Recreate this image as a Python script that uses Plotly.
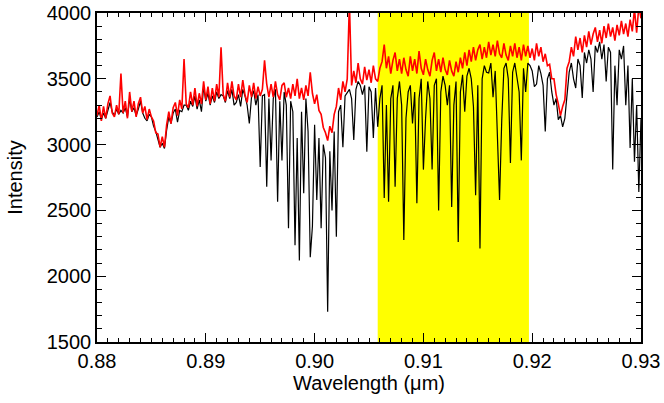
import plotly.graph_objects as go

# Spectrum sampled every 0.0002 um starting at 0.880 um
wl_start = 0.880
wl_step = 0.0002

# Telluric-corrected spectrum (red)
corrected = [
    3220, 3300, 3180, 3290, 3200, 3310, 3370, 3240, 3210, 3300,
    3230, 3540, 3240, 3330, 3200, 3400, 3250, 3330, 3210, 3310,
    3360, 3240, 3290, 3190, 3270, 3210, 3180, 3090, 3080, 2980,
    3060, 2980, 3150, 3250, 3160, 3280, 3320, 3220, 3340, 3270,
    3650, 3310, 3280, 3400, 3300, 3430, 3290, 3390, 3310, 3480,
    3340, 3440, 3310, 3430, 3330, 3460, 3360, 3740, 3380, 3330,
    3470, 3360, 3480, 3370, 3340, 3460, 3360, 3490, 3380, 3320,
    3450, 3360, 3470, 3350, 3440, 3370, 3420, 3640, 3460, 3360,
    3460, 3360, 3480, 3380, 3340, 3450, 3470, 3360, 3430, 3350,
    3460, 3370, 3500, 3350, 3430, 3340, 3450, 3370, 3550, 3390,
    3310, 3380, 3260, 3230, 3130, 3090, 3030, 3140, 3090, 3230,
    3290, 3430, 3340, 3480, 3400, 3500, 4080, 3450, 3560, 3470,
    3620, 3500, 3460, 3590, 3490, 3570, 3470, 3600, 3500, 3480,
    3580, 3630, 3760, 3580, 3670, 3540, 3640, 3700, 3560, 3650,
    3540, 3660, 3570, 3520, 3670, 3560, 3650, 3540, 3710, 3580,
    3530, 3650, 3570, 3520, 3640, 3700, 3560, 3650, 3550, 3660,
    3570, 3530, 3640, 3560, 3520, 3630, 3550, 3660, 3580, 3700,
    3600, 3720, 3630, 3740, 3640, 3720, 3760, 3650, 3740, 3660,
    3780, 3680, 3760, 3670, 3790, 3690, 3660, 3770, 3680, 3640,
    3750, 3670, 3770, 3660, 3740, 3640, 3760, 3670, 3750, 3660,
    3730, 3640, 3770, 3670, 3740, 3630, 3690, 3600, 3610, 3500,
    3500, 3380, 3310, 3220, 3290, 3340, 3580, 3630, 3740, 3670,
    3820, 3720, 3810, 3700, 3830, 3740, 3860, 3760, 3840, 3890,
    3780, 3870, 3770, 3900, 3810, 3920, 3820, 3890, 3790, 3910,
    3830, 3940, 3840, 3920, 3820, 3950, 3860, 4030, 3850, 4050,
    3960,
]

# Observed spectrum with telluric absorption (black)
observed = [
    3210, 3250, 3190, 3240, 3200, 3260, 3320, 3250, 3220, 3270,
    3230, 3260, 3240, 3280, 3210, 3350, 3250, 3280, 3220, 3270,
    3330, 3240, 3200, 3180, 3230, 3210, 3140, 3100, 3040, 2980,
    3010, 2970, 3110, 3210, 3160, 3240, 3270, 3170, 3260, 3250,
    3300, 3300, 3260, 3330, 3290, 3370, 3270, 3340, 3250, 3440,
    3330, 3390, 3300, 3370, 3320, 3400, 3350, 3380, 3370, 3320,
    3410, 3350, 3420, 3300, 3320, 3380, 3290, 3420, 3370, 3300,
    3160, 3360, 3410, 3300, 3380, 2830, 3370, 3380, 2680, 3350,
    2880, 3350, 3420, 2565, 3330, 2880, 3400, 3300, 2365, 3330,
    3250, 2235, 3050, 2120, 3250, 2630, 3350, 3100, 2145, 2380,
    3150, 2580, 3050, 2365, 3000, 2900, 1730, 2950, 2500, 3100,
    2300, 3250, 3300, 2980, 3370, 3400, 3420, 3350, 3035, 3420,
    3480, 3450, 3380, 3450, 2945, 3440, 3400, 3050, 3430, 3135,
    3350, 3450, 2595, 3300, 2565, 3350, 3450, 2680, 3350, 3480,
    3300, 2275, 3200, 3400, 3450, 3160, 3400, 2555, 3350, 3500,
    2810, 3200, 3480, 3350, 2810, 3450, 3500, 2500, 3400, 3520,
    3450, 3300, 3450, 2525, 3300, 3480, 2260, 3400, 3530, 3250,
    3520, 3580, 3500, 3290, 2615, 3450, 2210, 3500, 3600, 3550,
    3545, 3620, 3360, 3560, 3060, 2580, 3185, 3580, 3620, 3500,
    2860, 3550, 3620, 3500, 3400, 2880, 3580, 3400, 3620, 3600,
    3560, 3440, 3460, 3600, 3540, 3450, 3100, 3500, 3550, 3400,
    3300, 3350, 3190, 3220, 3135, 3200, 3380, 3550, 3620, 3500,
    3430, 3650, 3600, 3355, 3700, 3620, 3720, 3650, 3400, 3750,
    3700, 3780, 3650, 3760, 3480, 3740, 3700, 2810, 3600, 3300,
    3720, 3650, 3750, 3300, 3600, 2975, 3500, 2870, 3300, 2640,
    3200,
]

assert len(corrected) == 251, len(corrected)
assert len(observed) == 251, len(observed)

highlight_band = [0.9058, 0.9197]
x_range = [0.88, 0.93]
y_range = [1500, 4000]
x_ticks = [0.88, 0.89, 0.90, 0.91, 0.92, 0.93]
x_tick_text = ["0.88", "0.89", "0.90", "0.91", "0.92", "0.93"]
y_ticks = [1500, 2000, 2500, 3000, 3500, 4000]

FONT = "Liberation Sans, Arial, Helvetica, sans-serif"

fig = go.Figure()
fig.add_trace(go.Scatter(
    x0=wl_start, dx=wl_step, y=observed, mode="lines",
    line=dict(color="black", width=1.2), showlegend=False,
))
fig.add_trace(go.Scatter(
    x0=wl_start, dx=wl_step, y=corrected, mode="lines",
    line=dict(color="#ff0000", width=1.6), showlegend=False,
))

fig.add_shape(
    type="rect", xref="x", yref="paper",
    x0=highlight_band[0], x1=highlight_band[1], y0=0, y1=1,
    fillcolor="#ffff00", line=dict(width=0), layer="below",
)

axis_common = dict(
    showline=True, linecolor="black", linewidth=1.5, mirror="ticks",
    ticks="inside", ticklen=9, tickwidth=1.3, tickcolor="black",
    showgrid=False, zeroline=False, automargin=False,
    tickfont=dict(family=FONT, size=20, color="black"),
)

fig.update_xaxes(
    range=x_range, tickvals=x_ticks, ticktext=x_tick_text,
    minor=dict(dtick=0.001, ticks="inside", ticklen=4, tickwidth=1, tickcolor="black", showgrid=False),
    title=dict(text="Wavelength (μm)", font=dict(family=FONT, size=20, color="black"), standoff=4),
    **axis_common,
)
fig.update_yaxes(
    range=y_range, tickvals=y_ticks,
    minor=dict(dtick=100, ticks="inside", ticklen=5, tickwidth=1, tickcolor="black", showgrid=False),
    title=dict(text="Intensity", font=dict(family=FONT, size=20, color="black"), standoff=19),
    **axis_common,
)

fig.update_layout(
    width=664, height=403,
    margin=dict(l=97, r=23, t=13, b=61),
    plot_bgcolor="white", paper_bgcolor="white",
)

fig.write_html(
    "out.html",
    config={"displayModeBar": False},
    post_script="document.body.style.margin='0';document.body.style.overflow='hidden';",
)
